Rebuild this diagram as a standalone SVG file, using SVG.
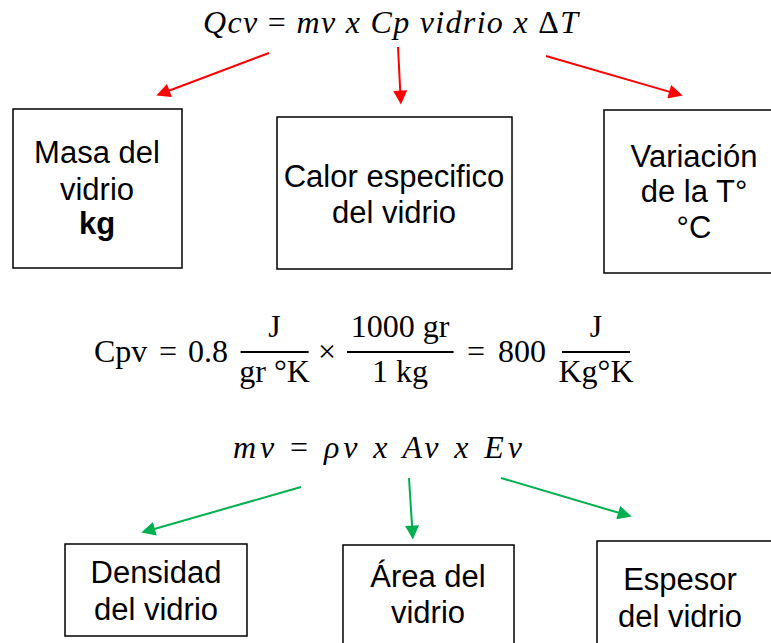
<svg xmlns="http://www.w3.org/2000/svg" width="771" height="643" viewBox="0 0 771 643">
<defs>
<marker id="ar" viewBox="0 0 10 10" refX="3" refY="5" markerUnits="userSpaceOnUse" markerWidth="16" markerHeight="14" orient="auto"><path d="M0,0 L10,5 L0,10 z" fill="#FF0000"/></marker>
<marker id="ag" viewBox="0 0 10 10" refX="3" refY="5" markerUnits="userSpaceOnUse" markerWidth="16" markerHeight="14" orient="auto"><path d="M0,0 L10,5 L0,10 z" fill="#00B050"/></marker>
<style>
.box{fill:#fff;stroke:#000;stroke-width:1.5}
.lbl{font-family:"Liberation Sans",Arial,sans-serif;font-size:31px;fill:#000;text-anchor:middle}
.eq{font-family:"Liberation Serif","Times New Roman",serif;font-size:32px;fill:#000}
.it{font-style:italic}
.mid{text-anchor:middle}
.r{stroke:#FF0000;stroke-width:2;fill:none;marker-end:url(#ar)}
.g{stroke:#00B050;stroke-width:2;fill:none;marker-end:url(#ag)}
.bar{stroke:#000;stroke-width:1.8}
</style>
</defs>
<rect width="771" height="643" fill="#fff"/>

<g id="eq-qcv">
<text class="eq it" x="203" y="33" textLength="375" lengthAdjust="spacing">Qcv <tspan font-style="normal">=</tspan> mv x Cp vidrio x <tspan font-style="normal">Δ</tspan>T</text>
</g>

<g id="node-masa">
<rect class="box" x="13" y="109" width="169" height="159"/>
<text class="lbl" x="97" y="163">Masa del</text>
<text class="lbl" x="97" y="200">vidrio</text>
<text class="lbl" x="97" y="234" font-weight="bold">kg</text>
</g>

<g id="node-calor">
<rect class="box" x="277" y="117" width="235" height="152"/>
<text class="lbl" x="394" y="187">Calor especifico</text>
<text class="lbl" x="394" y="223">del vidrio</text>
</g>

<g id="node-variacion">
<rect class="box" x="604" y="110" width="175" height="163"/>
<text class="lbl" x="694" y="167">Variación</text>
<text class="lbl" x="694" y="202">de la T°</text>
<text class="lbl" x="694" y="238">°C</text>
</g>

<g id="eq-cpv">
<text class="eq" x="94" y="362">Cpv</text>
<text class="eq mid" x="168" y="362">=</text>
<text class="eq" x="188" y="362">0.8</text>
<text class="eq mid" x="274.6" y="337">J</text>
<line class="bar" x1="240.6" y1="352" x2="308.6" y2="352"/>
<text class="eq mid" x="274.6" y="382">gr °K</text>
<text class="eq mid" x="327" y="362">×</text>
<text class="eq mid" x="400" y="337">1000 gr</text>
<line class="bar" x1="347" y1="352" x2="453.6" y2="352"/>
<text class="eq mid" x="400" y="382">1 kg</text>
<text class="eq mid" x="476" y="362">=</text>
<text class="eq" x="498" y="362">800</text>
<text class="eq mid" x="596" y="337">J</text>
<line class="bar" x1="562" y1="352" x2="630" y2="352"/>
<text class="eq mid" x="596" y="382">Kg°K</text>
</g>

<g id="eq-mv">
<text class="eq it" x="233" y="458" textLength="289" lengthAdjust="spacing" font-size="31">mv <tspan font-style="normal">=</tspan> ρv x Av x Ev</text>
</g>

<g id="node-densidad">
<rect class="box" x="65" y="544" width="182" height="92"/>
<text class="lbl" x="156" y="583">Densidad</text>
<text class="lbl" x="156" y="620">del vidrio</text>
</g>

<g id="node-area">
<rect class="box" x="343" y="545" width="171" height="104"/>
<text class="lbl" x="428" y="587">Área del</text>
<text class="lbl" x="428" y="623">vidrio</text>
</g>

<g id="node-espesor">
<rect class="box" x="597" y="541" width="180" height="108"/>
<text class="lbl" x="680" y="590">Espesor</text>
<text class="lbl" x="680" y="627">del vidrio</text>
</g>

<g id="connectors">
<line class="r" x1="269" y1="53" x2="165.5" y2="92.05"/>
<line class="r" x1="398" y1="47" x2="400.43" y2="94.8"/>
<line class="r" x1="546" y1="56" x2="673.25" y2="92.88"/>
<line class="g" x1="301" y1="487" x2="150.77" y2="529.92"/>
<line class="g" x1="409" y1="478" x2="412.29" y2="529.82"/>
<line class="g" x1="501" y1="478" x2="622.26" y2="513.83"/>
</g>
</svg>
